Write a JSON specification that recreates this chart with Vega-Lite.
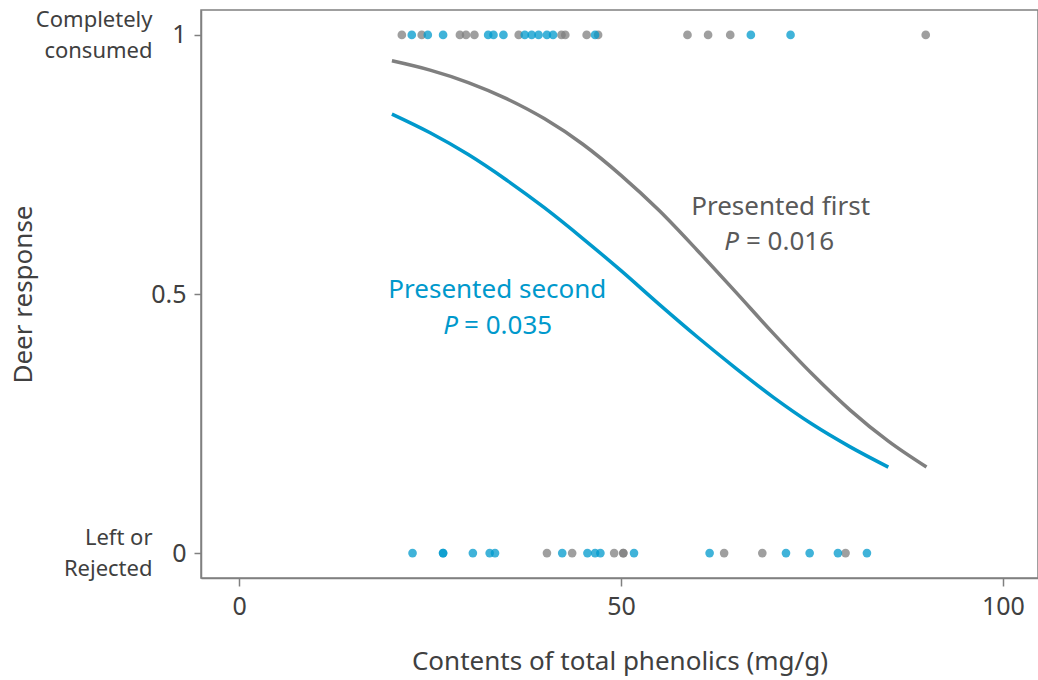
{
  "$schema": "https://vega.github.io/schema/vega-lite/v6.json",
  "width": 837,
  "height": 568,
  "autosize": {"type": "none"},
  "padding": {"left": 201, "top": 10, "right": 0, "bottom": 102},
  "background": "white",
  "config": {
    "view": {"stroke": "#808080", "strokeWidth": 1.5},
    "font": "Noto Sans",
    "axis": {
      "grid": false,
      "domainColor": "#808080",
      "domainWidth": 1.5,
      "tickColor": "#808080",
      "tickWidth": 1.5,
      "labelColor": "#404040",
      "titleColor": "#404040",
      "labelFont": "Noto Sans",
      "titleFont": "Noto Sans",
      "titleFontWeight": "normal"
    },
    "text": {"font": "Noto Sans"}
  },
  "datasets": {
    "pts": [
      {"order": "first", "phenolics": 21.3, "response": 1},
      {"order": "first", "phenolics": 23.9, "response": 1},
      {"order": "first", "phenolics": 28.9, "response": 1},
      {"order": "first", "phenolics": 29.7, "response": 1},
      {"order": "first", "phenolics": 30.8, "response": 1},
      {"order": "first", "phenolics": 36.6, "response": 1},
      {"order": "first", "phenolics": 42.2, "response": 1},
      {"order": "first", "phenolics": 42.7, "response": 1},
      {"order": "first", "phenolics": 45.5, "response": 1},
      {"order": "first", "phenolics": 47.0, "response": 1},
      {"order": "first", "phenolics": 58.7, "response": 1},
      {"order": "first", "phenolics": 61.4, "response": 1},
      {"order": "first", "phenolics": 64.3, "response": 1},
      {"order": "first", "phenolics": 89.9, "response": 1},
      {"order": "first", "phenolics": 40.3, "response": 0},
      {"order": "first", "phenolics": 43.6, "response": 0},
      {"order": "first", "phenolics": 49.1, "response": 0},
      {"order": "first", "phenolics": 50.3, "response": 0},
      {"order": "first", "phenolics": 50.3, "response": 0},
      {"order": "first", "phenolics": 63.5, "response": 0},
      {"order": "first", "phenolics": 68.5, "response": 0},
      {"order": "first", "phenolics": 79.4, "response": 0},
      {"order": "second", "phenolics": 22.6, "response": 1},
      {"order": "second", "phenolics": 24.7, "response": 1},
      {"order": "second", "phenolics": 26.7, "response": 1},
      {"order": "second", "phenolics": 32.6, "response": 1},
      {"order": "second", "phenolics": 33.3, "response": 1},
      {"order": "second", "phenolics": 34.6, "response": 1},
      {"order": "second", "phenolics": 37.4, "response": 1},
      {"order": "second", "phenolics": 38.3, "response": 1},
      {"order": "second", "phenolics": 39.2, "response": 1},
      {"order": "second", "phenolics": 40.3, "response": 1},
      {"order": "second", "phenolics": 41.1, "response": 1},
      {"order": "second", "phenolics": 46.6, "response": 1},
      {"order": "second", "phenolics": 67.0, "response": 1},
      {"order": "second", "phenolics": 72.2, "response": 1},
      {"order": "second", "phenolics": 22.7, "response": 0},
      {"order": "second", "phenolics": 26.7, "response": 0},
      {"order": "second", "phenolics": 26.7, "response": 0},
      {"order": "second", "phenolics": 30.6, "response": 0},
      {"order": "second", "phenolics": 32.8, "response": 0},
      {"order": "second", "phenolics": 33.5, "response": 0},
      {"order": "second", "phenolics": 42.3, "response": 0},
      {"order": "second", "phenolics": 45.6, "response": 0},
      {"order": "second", "phenolics": 46.6, "response": 0},
      {"order": "second", "phenolics": 47.3, "response": 0},
      {"order": "second", "phenolics": 51.7, "response": 0},
      {"order": "second", "phenolics": 61.6, "response": 0},
      {"order": "second", "phenolics": 71.6, "response": 0},
      {"order": "second", "phenolics": 74.7, "response": 0},
      {"order": "second", "phenolics": 78.4, "response": 0},
      {"order": "second", "phenolics": 82.2, "response": 0}
    ],
    "curve": [
      {"order": "first", "phenolics": 20, "response": 0.950},
      {"order": "first", "phenolics": 25, "response": 0.932},
      {"order": "first", "phenolics": 30, "response": 0.908},
      {"order": "first", "phenolics": 35, "response": 0.877},
      {"order": "first", "phenolics": 40, "response": 0.838},
      {"order": "first", "phenolics": 45, "response": 0.789},
      {"order": "first", "phenolics": 50, "response": 0.729},
      {"order": "first", "phenolics": 55, "response": 0.661},
      {"order": "first", "phenolics": 60, "response": 0.584},
      {"order": "first", "phenolics": 65, "response": 0.504},
      {"order": "first", "phenolics": 70, "response": 0.423},
      {"order": "first", "phenolics": 75, "response": 0.346},
      {"order": "first", "phenolics": 80, "response": 0.276},
      {"order": "first", "phenolics": 85, "response": 0.216},
      {"order": "first", "phenolics": 90, "response": 0.166},
      {"order": "second", "phenolics": 20, "response": 0.847},
      {"order": "second", "phenolics": 25, "response": 0.811},
      {"order": "second", "phenolics": 30, "response": 0.769},
      {"order": "second", "phenolics": 35, "response": 0.720},
      {"order": "second", "phenolics": 40, "response": 0.666},
      {"order": "second", "phenolics": 45, "response": 0.607},
      {"order": "second", "phenolics": 50, "response": 0.545},
      {"order": "second", "phenolics": 55, "response": 0.480},
      {"order": "second", "phenolics": 60, "response": 0.417},
      {"order": "second", "phenolics": 65, "response": 0.357},
      {"order": "second", "phenolics": 70, "response": 0.300},
      {"order": "second", "phenolics": 75, "response": 0.249},
      {"order": "second", "phenolics": 80, "response": 0.205},
      {"order": "second", "phenolics": 85, "response": 0.166}
    ],
    "heads": [
      {"order": "first", "phenolics": 70.9, "response": 0.668, "label": "Presented first"},
      {"order": "second", "phenolics": 33.8, "response": 0.508, "label": "Presented second"}
    ],
    "pees": [
      {"order": "first", "phenolics": 65.45, "response": 0.600, "label": "P"},
      {"order": "second", "phenolics": 28.66, "response": 0.438, "label": "P"}
    ],
    "vals": [
      {"order": "first", "phenolics": 66.36, "response": 0.600, "label": "= 0.016"},
      {"order": "second", "phenolics": 29.45, "response": 0.438, "label": "= 0.035"}
    ]
  },
  "layer": [
    {
      "data": {"name": "pts"},
      "mark": {"type": "circle", "opacity": 0.75, "size": 75},
      "encoding": {
        "x": {
          "field": "phenolics",
          "type": "quantitative",
          "scale": {"domain": [-5, 104.6], "nice": false, "zero": false},
          "axis": {
            "title": "Contents of total phenolics (mg/g)",
            "values": [0, 50, 100],
            "tickSize": 8,
            "labelPadding": 8,
            "labelFontSize": 25,
            "titleFontSize": 26,
            "titlePadding": 29
          }
        },
        "y": {
          "field": "response",
          "type": "quantitative",
          "scale": {"domain": [-0.048, 1.048], "nice": false, "zero": false},
          "axis": {
            "orient": "left",
            "title": null,
            "values": [0, 0.5, 1],
            "format": "~g",
            "tickSize": 7,
            "labelPadding": 8,
            "labelFontSize": 25
          }
        },
        "color": {
          "field": "order",
          "type": "nominal",
          "scale": {"domain": ["first", "second"], "range": ["#7f7f7f", "#0099cc"]},
          "legend": null
        }
      }
    },
    {
      "data": {"name": "curve"},
      "mark": {"type": "line", "strokeWidth": 3.5, "interpolate": "monotone"},
      "encoding": {
        "x": {"field": "phenolics", "type": "quantitative"},
        "y": {
          "field": "response",
          "type": "quantitative",
          "axis": {
            "orient": "left",
            "title": "Deer response",
            "titleFontSize": 26,
            "titlePadding": -1,
            "values": [0, 1],
            "offset": 47,
            "domain": false,
            "ticks": false,
            "labelPadding": 2,
            "labelOffset": -15.5,
            "labelFontSize": 22,
            "labelLineHeight": 31,
            "labelExpr": "datum.value == 1 ? ['Completely', 'consumed'] : datum.value == 0 ? ['Left or', 'Rejected'] : ''"
          }
        },
        "color": {"field": "order", "type": "nominal", "legend": null}
      }
    },
    {
      "data": {"name": "heads"},
      "mark": {"type": "text", "fontSize": 26, "align": "center", "baseline": "middle"},
      "encoding": {
        "x": {"field": "phenolics", "type": "quantitative"},
        "y": {"field": "response", "type": "quantitative", "axis": null},
        "text": {"field": "label"},
        "fill": {"field": "order", "type": "nominal", "scale": {"domain": ["first", "second"], "range": ["#595959", "#0099cc"]}, "legend": null}
      }
    },
    {
      "data": {"name": "pees"},
      "mark": {"type": "text", "fontSize": 26, "fontStyle": "italic", "align": "right", "baseline": "middle"},
      "encoding": {
        "x": {"field": "phenolics", "type": "quantitative"},
        "y": {"field": "response", "type": "quantitative", "axis": null},
        "text": {"field": "label"},
        "fill": {"field": "order", "type": "nominal", "legend": null}
      }
    },
    {
      "data": {"name": "vals"},
      "mark": {"type": "text", "fontSize": 26, "align": "left", "baseline": "middle"},
      "encoding": {
        "x": {"field": "phenolics", "type": "quantitative"},
        "y": {"field": "response", "type": "quantitative", "axis": null},
        "text": {"field": "label"},
        "fill": {"field": "order", "type": "nominal", "legend": null}
      }
    }
  ],
  "resolve": {"axis": {"y": "independent"}}
}
